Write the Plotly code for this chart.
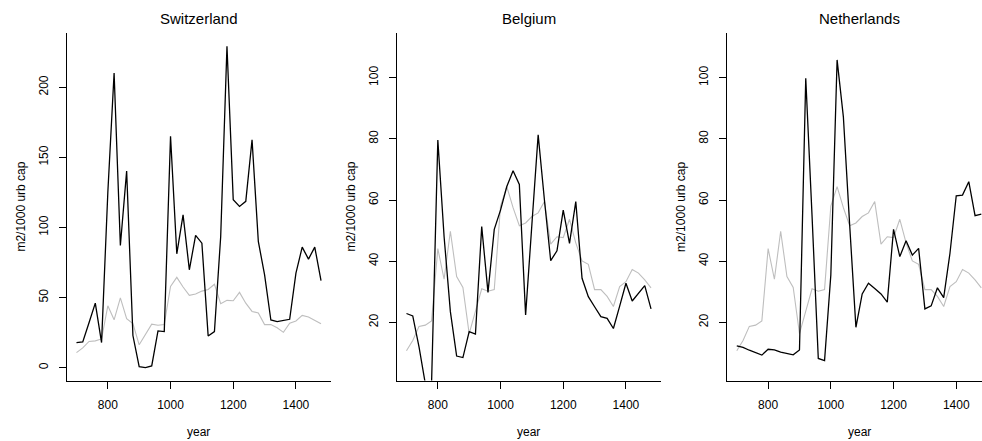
import plotly.graph_objects as go

# ---- data ----
years = [700, 720, 740, 760, 780, 800, 820, 840, 860, 880,
         900, 920, 940, 960, 980, 1000, 1020, 1040, 1060, 1080,
         1100, 1120, 1140, 1160, 1180, 1200, 1220, 1240, 1260, 1280,
         1300, 1320, 1340, 1360, 1380, 1400, 1420, 1440, 1460, 1480]

switzerland = [17.9, 18.3, 32, 46, 17.9, 125, 210.2, 87.1, 140.2, 22.9,
               0.7, 0, 1.2, 26.2, 25.7, 165, 81.2, 109, 69.8, 94.3,
               88.8, 22.6, 25.7, 93.6, 229.3, 119.8, 115, 118.6, 162.6, 90,
               66.2, 34, 32.9, 33.6, 34.5, 67.4, 86, 77.4, 86, 62.1]

belgium = [22.9, 22.1, 12, 0, 0, 79.6, 48, 23.5, 9.0, 8.5,
           17, 16.2, 51.3, 29.8, 50.4, 56.7, 64.4, 69.6, 65.1, 22.4,
           52, 81.3, 60, 40.2, 43.4, 56.7, 45.8, 59.5, 34.4, 28.4,
           25.1, 21.9, 21.3, 18, 25.3, 32.8, 27, 29.5, 32, 24.4]

netherlands = [12.3, 11.8, 10.9, 10, 9.3, 11.2, 11, 10.3, 9.9, 9.4,
               11, 99.8, 55, 8.2, 7.5, 35.5, 105.8, 87.2, 52, 18.4,
               29.3, 32.8, 31.1, 29.3, 26.6, 50.4, 41.5, 46.7, 42, 44.2,
               24.4, 25.4, 31.3, 28.1, 42.6, 61.4, 61.6, 66, 54.9, 55.4]

reference = [10.7, 14.1, 18.7, 19.1, 20.5, 44.1, 34.1, 49.8, 35, 31.4,
             16.3, 23.7, 31, 30.2, 30.7, 58, 64.4, 57.5, 51.6, 52.5,
             54.6, 55.8, 59.5, 45.6, 48, 47.7, 53.7, 46, 40.1, 39,
             30.7, 30.7, 28.5, 25.2, 31.7, 33.3, 37.3, 36.1, 33.9, 31.3]

titles = ["Switzerland", "Belgium", "Netherlands"]
series = [switzerland, belgium, netherlands]
xticks = [800, 1000, 1200, 1400]
yticks = [[0, 50, 100, 150, 200], [20, 40, 60, 80, 100], [20, 40, 60, 80, 100]]
yranges = [[-9.17, 238.5], [1.0, 114.5], [1.0, 114.5]]

# ---- layout geometry (pixels in a 982x441 page) ----
W, H = 982, 441
left_px = [66.7, 396.7, 727.0]
width_px = 264.1
x_range = [668.8, 1511.2]
top_px, bot_px = 33.3, 380.5
FONT = "Liberation Sans, Arial, Helvetica, sans-serif"

fig = go.Figure()
annotations = []
layout_axes = {}
for k in range(3):
    xa = "x" if k == 0 else f"x{k+1}"
    ya = "y" if k == 0 else f"y{k+1}"
    right_px = min(left_px[k] + width_px, W)
    xr = [x_range[0], x_range[0] + (right_px - left_px[k]) * (x_range[1] - x_range[0]) / width_px]

    fig.add_trace(go.Scatter(x=years, y=reference, mode="lines", xaxis=xa, yaxis=ya,
                             line=dict(color="#bebebe", width=1.1), showlegend=False,
                             hoverinfo="skip"))
    fig.add_trace(go.Scatter(x=years, y=series[k], mode="lines", xaxis=xa, yaxis=ya,
                             line=dict(color="black", width=1.3), showlegend=False))

    common = dict(showline=True, linecolor="black", linewidth=1, ticks="outside",
                  ticklen=7, tickwidth=1, tickcolor="black", showgrid=False,
                  zeroline=False, tickfont=dict(family=FONT, size=12, color="black"))
    layout_axes["xaxis" if k == 0 else f"xaxis{k+1}"] = dict(
        domain=[left_px[k] / W, right_px / W], range=xr, anchor=ya,
        tickmode="array", tickvals=xticks, ticklabelstandoff=6, **common)
    layout_axes["yaxis" if k == 0 else f"yaxis{k+1}"] = dict(
        domain=[1 - bot_px / H, 1 - top_px / H], range=yranges[k], anchor=xa,
        tickmode="array", tickvals=yticks[k], tickangle=-90, ticklabelstandoff=6, **common)

    cx = (left_px[k] + left_px[k] + width_px) / 2
    annotations.append(dict(text=titles[k], x=cx / W, y=1 - 19 / H, xref="paper", yref="paper",
                            showarrow=False, xanchor="center", yanchor="middle",
                            font=dict(family=FONT, size=15, color="black")))
    annotations.append(dict(text="year", x=cx / W, y=1 - 432 / H, xref="paper", yref="paper",
                            showarrow=False, xanchor="center", yanchor="middle",
                            font=dict(family=FONT, size=12, color="black")))
    annotations.append(dict(text="m2/1000 urb cap", x=(left_px[k] - 46) / W,
                            y=1 - ((top_px + bot_px) / 2) / H, xref="paper", yref="paper",
                            showarrow=False, xanchor="center", yanchor="middle", textangle=-90,
                            font=dict(family=FONT, size=12, color="black")))

fig.update_layout(width=W, height=H, margin=dict(l=0, r=0, t=0, b=0),
                  plot_bgcolor="white", paper_bgcolor="white",
                  annotations=annotations, **layout_axes)

fig.write_html("out.html")
